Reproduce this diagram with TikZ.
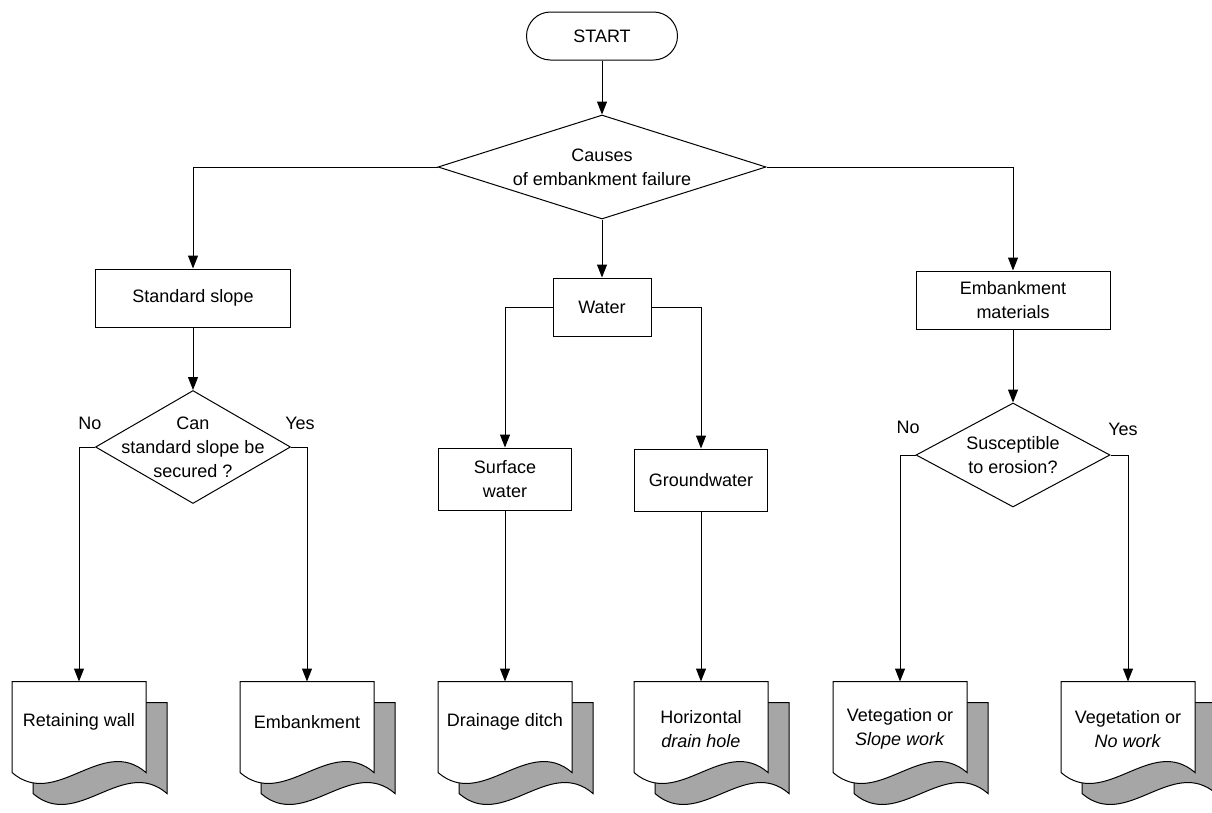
\documentclass[tikz,border=0pt]{standalone}
\usepackage{fontspec}
\setmainfont{Liberation Sans}
\usetikzlibrary{shapes.geometric, arrows.meta, calc}

\tikzset{
    every node/.style={font=\fontsize{18}{24}\selectfont},
    arr/.style={-{Triangle[length=13pt,width=10pt]}},
    terminal/.style={draw, rectangle, rounded corners=24pt, minimum width=151, minimum height=48},
    process/.style={draw, rectangle, align=center, inner sep=0pt, minimum width=#1, minimum height=58},
    decision/.style={draw, diamond, inner sep=0pt, minimum width=#1},
    docframe/.style={rectangle, inner sep=0pt, minimum width=133, minimum height=90}
}

% document with a second sheet behind it
\newcommand{\drawdoc}[3]{%
    \filldraw[fill=black!35] ($(#1.north west)+(21,21)$) -- ($(#1.north east)+(21,21)$)
        -- ($(#1.south east)+(21,21)$) .. controls +(-44,-38) and +(44,38) .. ($(#1.south west)+(21,21)$) -- cycle;
    \filldraw[fill=white] (#1.north west) -- (#1.north east) -- (#1.south east)
        .. controls +(-44,-38) and +(44,38) .. (#1.south west) -- cycle;
    \node[align=center] at ($(#1)+(0,#2)$) {#3};
}

\begin{document}
\begin{tikzpicture}[x=1pt, y=-1pt, line width=1pt]

\clip (0,0) rectangle (1212,812);

% --- Start und erste Entscheidung ---
\node[terminal] (start) at (602,36) {START};
\node[decision=328, minimum height=104,
    label={[align=center]center:{Causes\\of embankment failure}}] (causes) at (602,167) {};
\draw[arr] (start) -- (causes);

% --- linker Zweig: Standard slope ---
\node[process=195] (slope) at (193,298) {Standard slope};
\node[decision=195, minimum height=113,
    label={[align=center]center:{Can\\standard slope be\\secured ?}}] (can) at (193,447) {};
\node at (90,423) {No};
\node at (300,423) {Yes};

\draw[arr] (causes.west) -| (slope.north);
\draw[arr] (slope) -- (can);

% --- mittlerer Zweig: Water ---
\node[process=98] (water) at (602,307) {Water};
\node[process=133, minimum height=62] (surface) at (505,479) {Surface\\water};
\node[process=133, minimum height=62] (ground) at (701,480) {Groundwater};

\draw[arr] (causes.south) -- (water.north);
\draw[arr] (water.west) -| (surface.north);
\draw[arr] (water.east) -| (ground.north);

% --- rechter Zweig: Embankment materials ---
\node[process=194] (material) at (1013,300) {Embankment\\materials};
\node[decision=194, minimum height=104,
    label={[align=center]center:{Susceptible\\to erosion?}}] (erosion) at (1013,455) {};
\node at (908,427) {No};
\node at (1123,429) {Yes};

\draw[arr] (causes.east) -| (material.north);
\draw[arr] (material) -- (erosion);

% --- Ergebnisse ---
\node[docframe] (wall) at (79,727) {};
\drawdoc{wall}{-5}{Retaining wall}
\node[docframe] (embank) at (307,727) {};
\drawdoc{embank}{-5}{Embankment}
\node[docframe] (ditch) at (505,727) {};
\drawdoc{ditch}{-5}{Drainage ditch}
\node[docframe] (drain) at (701,727) {};
\drawdoc{drain}{2}{Horizontal\\\textit{drain hole}}
\node[docframe] (slopework) at (900,727) {};
\drawdoc{slopework}{2}{Vetegation or\\\textit{Slope work}}
\node[docframe] (nowork) at (1128,727) {};
\drawdoc{nowork}{2}{Vegetation or\\\textit{No work}}

\draw[arr] (can.west) -| (wall.north);
\draw[arr] (can.east) -| (embank.north);
\draw[arr] (surface) -- (ditch);
\draw[arr] (ground) -- (drain);
\draw[arr] (erosion.west) -| (slopework.north);
\draw[arr] (erosion.east) -| (nowork.north);

\end{tikzpicture}
\end{document}
